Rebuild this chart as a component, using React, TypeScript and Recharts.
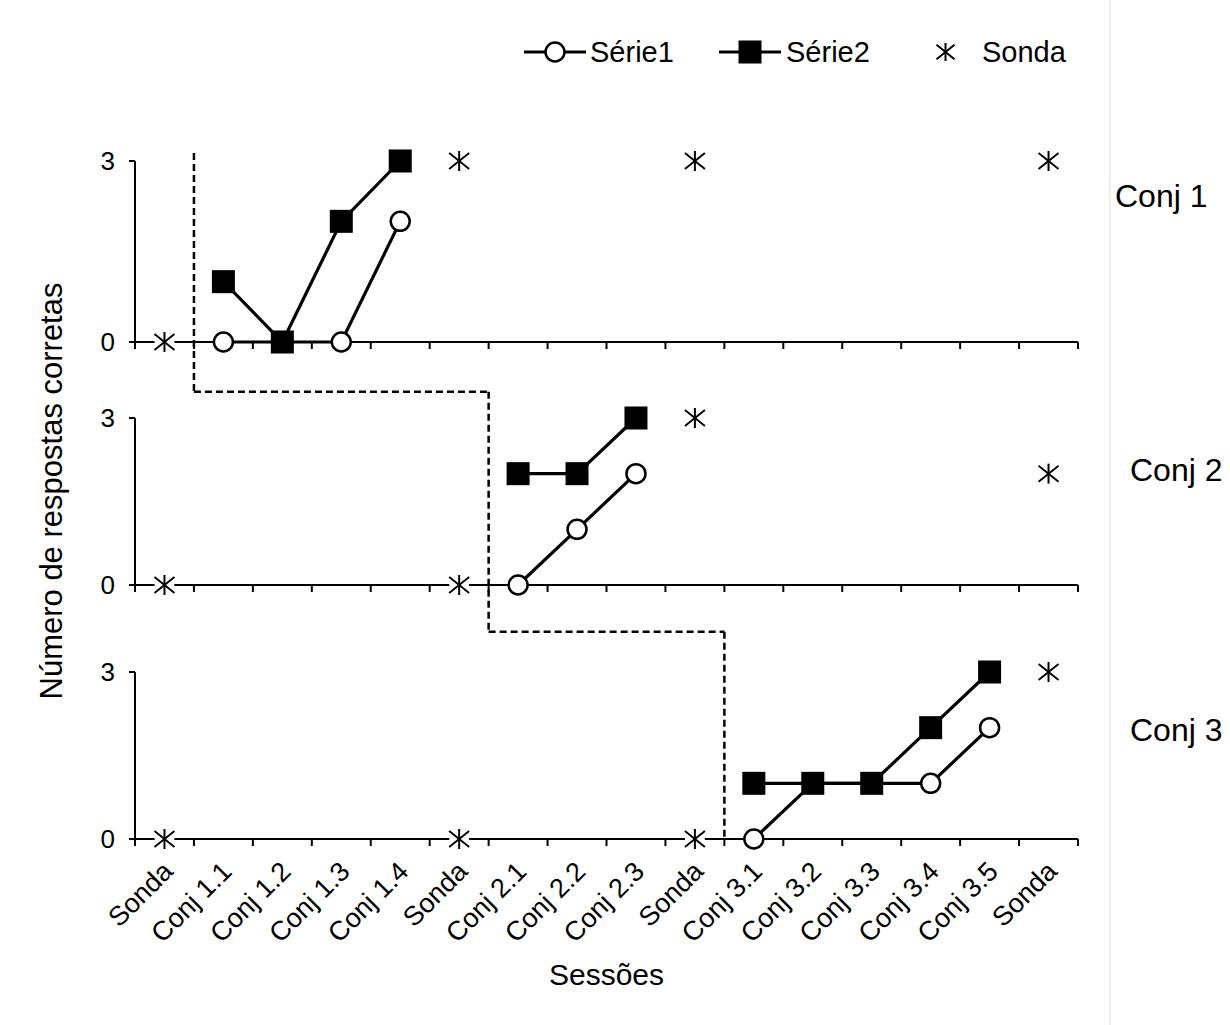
import React from 'react';
import { LineChart, Line, XAxis, YAxis, ReferenceLine } from 'recharts';

const FONT = '"Liberation Sans", Arial, Helvetica, sans-serif';

// ---------- data ----------
const CATEGORIES = [
  'Sonda', 'Conj 1.1', 'Conj 1.2', 'Conj 1.3', 'Conj 1.4',
  'Sonda', 'Conj 2.1', 'Conj 2.2', 'Conj 2.3',
  'Sonda', 'Conj 3.1', 'Conj 3.2', 'Conj 3.3', 'Conj 3.4', 'Conj 3.5',
  'Sonda',
];
const N = null;

const SERIE1_CONJ1 = [N, 0, 0, 0, 2, N, N, N, N, N, N, N, N, N, N, N];
const SERIE2_CONJ1 = [N, 1, 0, 2, 3, N, N, N, N, N, N, N, N, N, N, N];
const SONDA_CONJ1 = [0, N, N, N, N, 3, N, N, N, 3, N, N, N, N, N, 3];

const SERIE1_CONJ2 = [N, N, N, N, N, N, 0, 1, 2, N, N, N, N, N, N, N];
const SERIE2_CONJ2 = [N, N, N, N, N, N, 2, 2, 3, N, N, N, N, N, N, N];
const SONDA_CONJ2 = [0, N, N, N, N, 0, N, N, N, 3, N, N, N, N, N, 2];

const SERIE1_CONJ3 = [N, N, N, N, N, N, N, N, N, N, 0, 1, 1, 1, 2, N];
const SERIE2_CONJ3 = [N, N, N, N, N, N, N, N, N, N, 1, 1, 1, 2, 3, N];
const SONDA_CONJ3 = [0, N, N, N, N, 0, N, N, N, 0, N, N, N, N, N, 3];

const Y_TICKS = [0, 3];
const PANEL_NAMES = ['Conj 1', 'Conj 2', 'Conj 3'];
// index of the last category before each phase change (dashed line)
const PHASE_CHANGE_AFTER = [0, 5, 9];
const SERIES_NAMES = ['Série1', 'Série2', 'Sonda'];
const X_TITLE = 'Sessões';
const Y_TITLE = 'Número de respostas corretas';

const PANEL_DATA = [
  { s1: SERIE1_CONJ1, s2: SERIE2_CONJ1, sonda: SONDA_CONJ1 },
  { s1: SERIE1_CONJ2, s2: SERIE2_CONJ2, sonda: SONDA_CONJ2 },
  { s1: SERIE1_CONJ3, s2: SERIE2_CONJ3, sonda: SONDA_CONJ3 },
];

// ---------- layout ----------
const PAGE_W = 1230;
const PAGE_H = 1025;
const PLOT_LEFT = 135;
const PLOT_RIGHT = 1078;
const Y_AXIS_W = 60;
const Y_MAX = 3;
const LAYOUT = [
  { top: 0, height: 400, plotTop: 161, plotBottom: 342, axisH: 10 },
  { top: 380, height: 260, plotTop: 418, plotBottom: 585, axisH: 10 },
  { top: 620, height: 405, plotTop: 672, plotBottom: 839, axisH: 120 },
];
const DASH_TOP_Y = 153;
const DASH_STEP_Y = [391.7, 631.7];

const X_DOMAIN: [number, number] = [-0.5, CATEGORIES.length - 0.5];
const X_TICKS: number[] = [];
for (let i = 0; i <= CATEGORIES.length * 2; i++) X_TICKS.push(-0.5 + i * 0.5);

// ---------- markers ----------
const CircleDot = (props: any) => {
  const { cx, cy, value } = props;
  if (cx == null || cy == null || value == null) return <g />;
  return <circle cx={cx} cy={cy} r={9.5} fill="#fff" stroke="#000" strokeWidth={2.5} />;
};
const SquareDot = (props: any) => {
  const { cx, cy, value } = props;
  if (cx == null || cy == null || value == null) return <g />;
  return <rect x={cx - 11.5} y={cy - 11.5} width={23} height={23} fill="#000" />;
};
const Asterisk = ({ cx, cy, s = 10 }: { cx: number; cy: number; s?: number }) => (
  <g>
    <circle cx={cx} cy={cy} r={s} fill="#fff" />
    <line x1={cx} y1={cy - s} x2={cx} y2={cy + s} stroke="#000" strokeWidth={2} />
    <line x1={cx - s} y1={cy - s * 0.8} x2={cx + s} y2={cy + s * 0.8} stroke="#000" strokeWidth={2} />
    <line x1={cx - s} y1={cy + s * 0.8} x2={cx + s} y2={cy - s * 0.8} stroke="#000" strokeWidth={2} />
  </g>
);
const AsteriskDot = (props: any) => {
  const { cx, cy, value } = props;
  if (cx == null || cy == null || value == null) return <g />;
  return <Asterisk cx={cx} cy={cy} />;
};

const makeXTick = (showLabels: boolean) => (props: any) => {
  const { x, y, payload } = props;
  const v = payload.value;
  if (!Number.isInteger(v)) {
    return <line x1={x} y1={y} x2={x} y2={y + 7} stroke="#000" strokeWidth={2} />;
  }
  if (!showLabels) return <g />;
  const ax = x + 10;
  const ay = y + 34;
  return (
    <text x={ax} y={ay} transform={`rotate(-45 ${ax} ${ay})`} textAnchor="end"
      fontSize={27} fontFamily={FONT} fill="#000">
      {CATEGORIES[v]}
    </text>
  );
};

const Panel = ({ p }: { p: number }) => {
  const L = LAYOUT[p];
  const d = PANEL_DATA[p];
  const rows = CATEGORIES.map((c, i) => ({ x: i, cat: c, s1: d.s1[i], s2: d.s2[i], sonda: d.sonda[i] }));
  const toVal = (pageY: number) => (Y_MAX * (L.plotBottom - pageY)) / (L.plotBottom - L.plotTop);
  const bx = PHASE_CHANGE_AFTER[p] + 0.5;
  const vTop = p === 0 ? toVal(DASH_TOP_Y) : toVal(DASH_STEP_Y[p - 1]);
  const vBottom = p < 2 ? toVal(DASH_STEP_Y[p]) : 0;
  const isLast = p === LAYOUT.length - 1;
  const dash = { stroke: '#000', strokeWidth: 2.5, strokeDasharray: '7 4', ifOverflow: 'visible' as const };
  return (
    <div style={{ position: 'absolute', left: 0, top: L.top }}>
      <LineChart
        width={PAGE_W}
        height={L.height}
        data={rows}
        margin={{
          top: L.plotTop - L.top,
          right: PAGE_W - PLOT_RIGHT,
          left: PLOT_LEFT - Y_AXIS_W,
          bottom: L.top + L.height - L.plotBottom - L.axisH,
        }}
      >
        <XAxis
          dataKey="x"
          type="number"
          domain={X_DOMAIN}
          ticks={X_TICKS}
          interval={0}
          height={L.axisH}
          tickSize={0}
          tickMargin={0}
          tickLine={false}
          axisLine={{ stroke: '#000', strokeWidth: 2 }}
          tick={makeXTick(isLast)}
          label={isLast ? { value: X_TITLE, position: 'bottom', offset: 5, fontSize: 30, fontFamily: FONT, fill: '#000' } : undefined}
        />
        <YAxis
          type="number"
          domain={[0, Y_MAX]}
          ticks={Y_TICKS}
          interval={0}
          width={Y_AXIS_W}
          tickSize={6}
          tickMargin={14}
          axisLine={{ stroke: '#000', strokeWidth: 2 }}
          tickLine={{ stroke: '#000', strokeWidth: 2 }}
          tick={{ fontSize: 26, fill: '#000', fontFamily: FONT }}
        />
        <ReferenceLine segment={[{ x: bx, y: vTop }, { x: bx, y: vBottom }]} {...dash} />
        {p < 2 && (
          <ReferenceLine
            segment={[{ x: bx, y: vBottom }, { x: PHASE_CHANGE_AFTER[p + 1] + 0.5, y: vBottom }]}
            {...dash}
          />
        )}
        <Line dataKey="s1" name={SERIES_NAMES[0]} stroke="#000" strokeWidth={3.2} dot={CircleDot}
          activeDot={false} isAnimationActive={false} connectNulls={false} />
        <Line dataKey="s2" name={SERIES_NAMES[1]} stroke="#000" strokeWidth={3.2} dot={SquareDot}
          activeDot={false} isAnimationActive={false} connectNulls={false} />
        <Line dataKey="sonda" name={SERIES_NAMES[2]} stroke="none" dot={AsteriskDot}
          activeDot={false} isAnimationActive={false} connectNulls={false} />
      </LineChart>
    </div>
  );
};

const Overlay = () => {
  const legendY = 52;
  return (
    <svg width={PAGE_W} height={PAGE_H} style={{ position: 'absolute', left: 0, top: 0 }}>
      <line x1={1110} y1={0} x2={1110} y2={PAGE_H} stroke="#dcdcdc" strokeWidth={1} />
      {/* legend */}
      <line x1={524} y1={legendY} x2={586} y2={legendY} stroke="#000" strokeWidth={3} />
      <circle cx={555} cy={legendY} r={9.5} fill="#fff" stroke="#000" strokeWidth={2.5} />
      <text x={590} y={legendY + 10} fontSize={29} fontFamily={FONT} fill="#000">{SERIES_NAMES[0]}</text>
      <line x1={719} y1={legendY} x2={781} y2={legendY} stroke="#000" strokeWidth={3} />
      <rect x={750 - 11.5} y={legendY - 11.5} width={23} height={23} fill="#000" />
      <text x={786} y={legendY + 10} fontSize={29} fontFamily={FONT} fill="#000">{SERIES_NAMES[1]}</text>
      <Asterisk cx={945.5} cy={legendY} s={9} />
      <text x={982} y={legendY + 10} fontSize={29} fontFamily={FONT} fill="#000">{SERIES_NAMES[2]}</text>
      {/* panel names */}
      <text x={1115} y={207} fontSize={32} fontFamily={FONT} fill="#000">{PANEL_NAMES[0]}</text>
      <text x={1130} y={481} fontSize={32} fontFamily={FONT} fill="#000">{PANEL_NAMES[1]}</text>
      <text x={1130} y={741} fontSize={32} fontFamily={FONT} fill="#000">{PANEL_NAMES[2]}</text>
      {/* y title */}
      <text x={62} y={491} transform="rotate(-90 62 491)" textAnchor="middle" fontSize={31} fontFamily={FONT} fill="#000">
        {Y_TITLE}
      </text>
    </svg>
  );
};

export default function App() {
  return (
    <div style={{ position: 'absolute', left: 0, top: 0, width: PAGE_W, height: PAGE_H, background: '#fff', overflow: 'hidden' }}>
      <Overlay />
      <Panel p={0} />
      <Panel p={1} />
      <Panel p={2} />
    </div>
  );
}
